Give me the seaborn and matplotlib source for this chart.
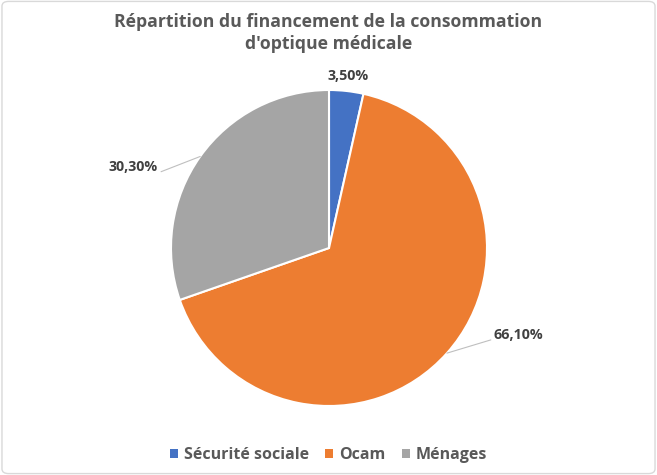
import matplotlib
matplotlib.use("Agg")
import matplotlib.pyplot as plt
from matplotlib.patches import FancyBboxPatch, Patch
import numpy as np
import pandas as pd
import seaborn as sns

categories = ["Sécurité sociale", "Ocam", "Ménages"]
values = [3.5, 66.1, 30.3]
labels = ["3,50%", "66,10%", "30,30%"]
title = "Répartition du financement de la consommation\nd'optique médicale"

sns.set_theme(style="white")
plt.rcParams['font.family'] = ['Open Sans', 'DejaVu Sans']

df = pd.DataFrame({"cat": categories, "val": values, "lab": labels})
colors = ["#4472C4", "#ED7D31", "#A5A5A5"]

fig = plt.figure(figsize=(6.57, 4.75), dpi=100)
fig.patch.set_facecolor("white")
border = FancyBboxPatch((0.003, 0.003), 0.994, 0.994, boxstyle="round,pad=0,rounding_size=0.01",
                        transform=fig.transFigure, fill=False, edgecolor="#D9D9D9", linewidth=1.0)
fig.patches.append(border)

ax = fig.add_axes([(329 - 158) / 657, (475 - 406) / 475, 316 / 657, 316 / 475])
wedges, _ = ax.pie(df["val"], colors=colors, startangle=90, counterclock=False,
                   wedgeprops=dict(edgecolor="white", linewidth=1.5), radius=1)
ax.set_xlim(-1, 1)
ax.set_ylim(-1, 1)
ax.set_aspect("equal")
ax.axis("off")

# label placement (angle in degrees, radius), and whether a leader line is drawn
label_pos = [(83.7, 1.095, False), (-24.7, 1.32, True), (157.5, 1.34, True)]
for w, lab, (ang, r, leader) in zip(wedges, df["lab"], label_pos):
    tx, ty = r * np.cos(np.radians(ang)), r * np.sin(np.radians(ang))
    ax.text(tx, ty, lab, ha="center", va="center", fontsize=10.3, fontweight="bold",
            color="#404040", clip_on=False)
    if leader:
        mid = np.radians((w.theta1 + w.theta2) / 2)
        ex, ey = np.cos(mid), np.sin(mid)
        side = 1 if tx > 0 else -1
        lx = tx - side * 0.175
        ax.plot([ex, lx], [ey, ty - 0.03], color="#BFBFBF", lw=0.8, clip_on=False)

fig.text(0.5, 1 - 33 / 475, title, ha="center", va="center", fontsize=12.7,
         fontweight="bold", color="#595959", linespacing=1.35)

handles = [Patch(facecolor=c, edgecolor="none") for c in colors]
fig.legend(handles, categories, loc="center", bbox_to_anchor=(0.5, 1 - 455 / 475),
           ncol=3, frameon=False, handlelength=0.5, handleheight=0.5,
           handletextpad=0.35, columnspacing=1.05, labelcolor="#595959",
           prop={"weight": "bold", "size": 11.5})

fig.savefig("out.png", dpi=100)
